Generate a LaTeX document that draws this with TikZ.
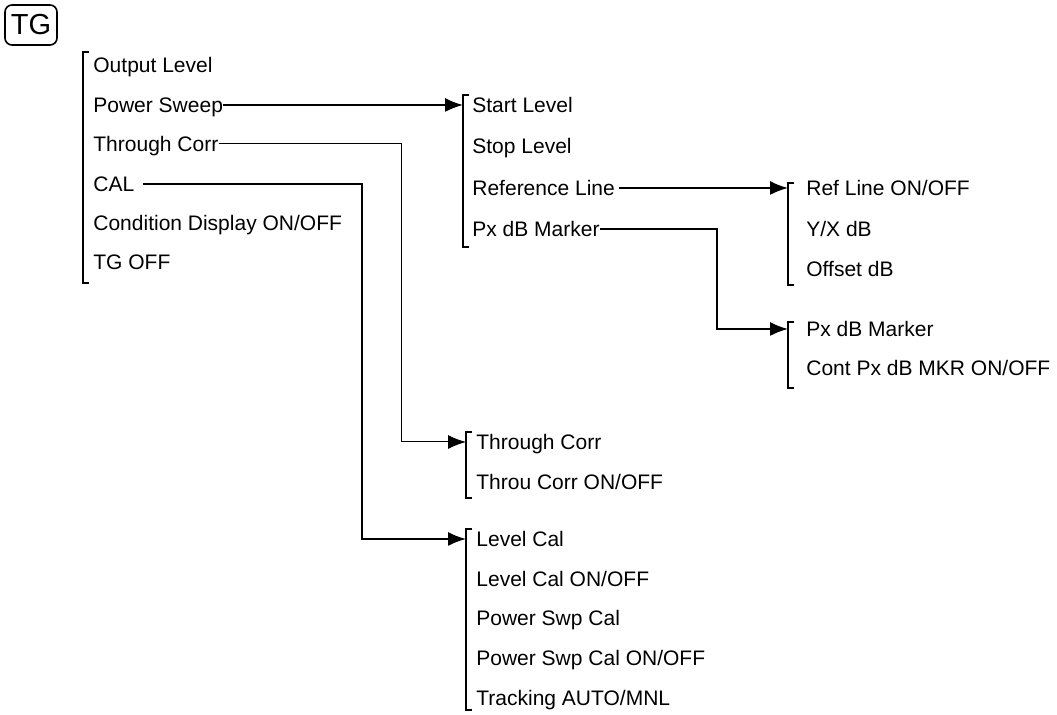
\documentclass[tikz,border=0pt]{standalone}
\usepackage{fontspec}
\setmainfont{Liberation Sans}
\usetikzlibrary{arrows.meta}
\tikzset{
  wire/.style={black,line width=0.8pt},
  thinwire/.style={black,line width=0.5pt},
  flow/.style={-{Latex[length=9pt,width=7pt]},line width=0.8pt},
  thinflow/.style={flow,line width=0.5pt},
  brace/.style={black,line width=0.8pt},
  item/.style={anchor=west,inner sep=0pt,text height=7.5pt,text depth=0pt,
               font=\fontsize{10.5}{12}\selectfont},
  keycap/.style={draw=black,line width=0.8pt,rounded corners=3.5pt,inner sep=0pt,
                 minimum width=26pt,minimum height=20pt,font=\fontsize{14.5}{16}\selectfont},
}
\begin{document}
\begin{tikzpicture}[x=0.5pt,y=-0.5pt]
  \path[use as bounding box] (0,0) rectangle (1057,715);

  \node[keycap] (tg) at (31,25) {TG};

  % main menu
  \draw[brace] (89,52) -| (83,283) -- (89,283);
  \node[item] (outlvl) at (93,65)  {Output Level};
  \node[item] (psweep) at (93,105) {Power Sweep};
  \node[item] (thru)   at (93,144) {Through Corr};
  \node[item] (cal)    at (93,184) {CAL};
  \node[item] (cond)   at (93,223) {Condition Display ON/OFF};
  \node[item] (tgoff)  at (93,262) {TG OFF};

  % power sweep menu
  \draw[brace] (469,95) -| (463,247) -- (469,247);
  \node[item] (startlvl) at (472,105) {Start Level};
  \node[item] (stoplvl)  at (472,146) {Stop Level};
  \node[item] (refline)  at (472,188) {Reference Line};
  \node[item] (pxmkr)    at (472,229) {Px dB Marker};

  % reference line menu
  \draw[brace] (794,183) -| (788,285) -- (794,285);
  \node[item] (refonoff) at (806,188) {Ref Line ON/OFF};
  \node[item] (yxdb)     at (806,229) {Y/X dB};
  \node[item] (offsdb)   at (806,269) {Offset dB};

  % px dB marker menu
  \draw[brace] (794,322) -| (788,388) -- (794,388);
  \node[item] (pxmkr2) at (806,329) {Px dB Marker};
  \node[item] (contpx) at (806,368) {Cont Px dB MKR ON/OFF};

  % through corr menu
  \draw[brace] (472,432) -| (466,498) -- (472,498);
  \node[item] (thru2)     at (476,442) {Through Corr};
  \node[item] (thruonoff) at (476,482) {Throu Corr ON/OFF};

  % cal menu
  \draw[brace] (472,529) -| (466,710) -- (472,710);
  \node[item] (lvlcal)      at (476,539) {Level Cal};
  \node[item] (lvlcalonoff) at (476,579) {Level Cal ON/OFF};
  \node[item] (swpcal)      at (476,618) {Power Swp Cal};
  \node[item] (swpcalonoff) at (476,658) {Power Swp Cal ON/OFF};
  \node[item] (tracking)    at (476,698) {Tracking AUTO/MNL};

  % entry points on the brackets
  \coordinate (inA) at (463,105);
  \coordinate (inR) at (788,188);
  \coordinate (jP)  at (717,329);
  \coordinate (inP) at (788,329);
  \coordinate (jT)  at (401,442);
  \coordinate (inT) at (466,442);
  \coordinate (jC)  at (362,539);
  \coordinate (inC) at (466,539);

  \draw[flow] (psweep.east) -- (inA);
  \draw[thinflow] (thru.east) -| (jT) -- (inT);
  \draw[flow,shorten <=4pt] (cal.east) -| (jC) -- (inC);
  \draw[flow,shorten <=2pt] (refline.east) -- (inR);
  \draw[flow] (pxmkr.east) -| (jP) -- (inP);
\end{tikzpicture}
\end{document}
